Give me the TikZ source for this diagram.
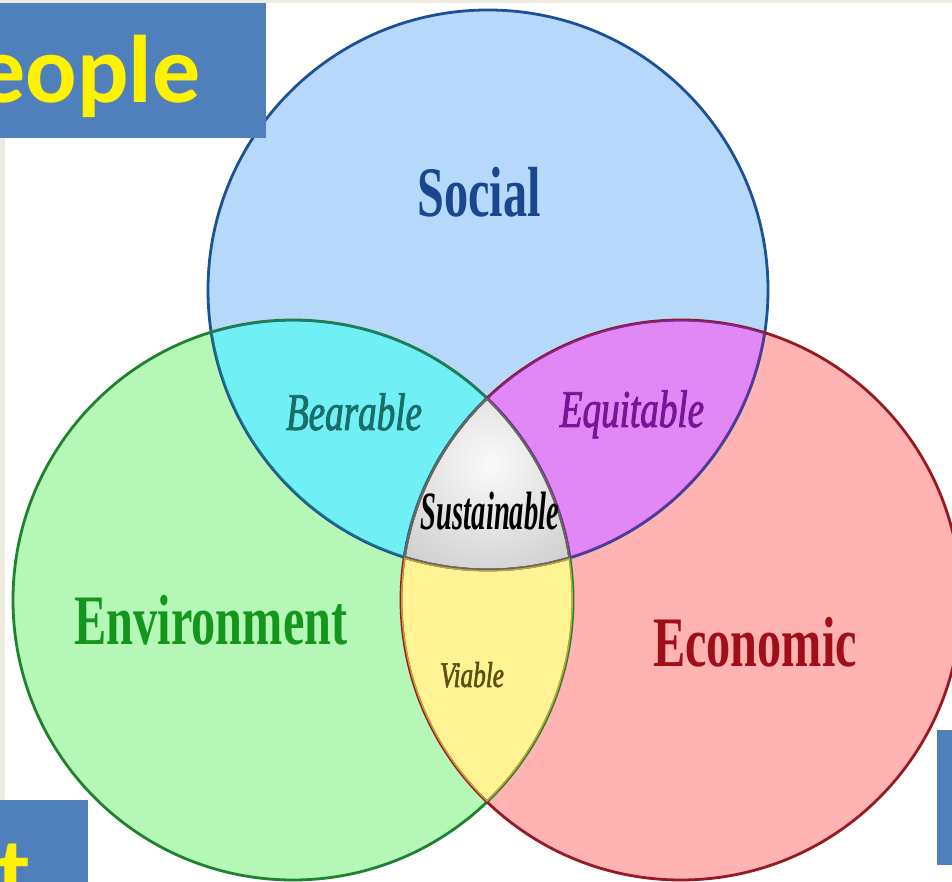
\documentclass[tikz,border=0pt]{standalone}
\usepackage{fontspec}
\setmainfont{Liberation Serif}
\newfontfamily\condB{Liberation Serif}[FakeStretch=0.68]
\newfontfamily\condI{Liberation Serif}[FakeStretch=0.70, FakeBold=1.6]
\newfontfamily\condS{Liberation Serif}[FakeStretch=0.53]
\newfontfamily\calfont{Carlito}
\definecolor{beige}{RGB}{237,234,224}
\definecolor{boxblue}{RGB}{79,128,188}
\definecolor{sfillc}{RGB}{182,216,250}
\definecolor{efillc}{RGB}{180,247,182}
\definecolor{cfillc}{RGB}{255,179,179}
\definecolor{sefillc}{RGB}{112,240,245}
\definecolor{scfillc}{RGB}{226,136,246}
\definecolor{ecfillc}{RGB}{255,243,148}
\definecolor{slinec}{RGB}{30,80,150}
\definecolor{elinec}{RGB}{30,130,50}
\definecolor{clinec}{RGB}{150,25,35}
\definecolor{selinec}{RGB}{30,120,130}
\definecolor{sclinec}{RGB}{120,40,160}
\definecolor{eclinec}{RGB}{200,160,60}
\definecolor{alinec}{RGB}{100,100,100}
\definecolor{stext}{RGB}{25,70,140}
\definecolor{etext}{RGB}{20,150,30}
\definecolor{ctext}{RGB}{160,15,25}
\definecolor{betext}{RGB}{25,110,105}
\definecolor{eqtext}{RGB}{120,20,150}
\definecolor{vitext}{RGB}{90,80,20}
\tikzset{
  ring/.style={line width=2.8pt},
  bigword/.style={anchor=base, inner sep=0pt, font=\condB\bfseries\fontsize{71}{71}\selectfont},
  midword/.style={anchor=base, inner sep=0pt, font=\condI\itshape\fontsize{53}{53}\selectfont},
  boxword/.style={inner sep=0pt, text=yellow, font=\calfont\bfseries\fontsize{96}{96}\selectfont}
}
\begin{document}
\begin{tikzpicture}[x=1pt,y=1pt]
\useasboundingbox (0,0) rectangle (952,882);
\clip (0,0) rectangle (952,882);
\fill[white] (0,0) rectangle (952,882);
\fill[beige] (0,0) rectangle (5,882);
\fill[beige] (0,879) rectangle (952,882);

\coordinate (cs) at (488,592);
\coordinate (ce) at (293,282);
\coordinate (cc) at (681,282);

% base fills
\fill[sfillc] (cs) circle (280pt);
\fill[efillc] (ce) circle (280pt);
\fill[cfillc] (cc) circle (280pt);
% pairwise overlaps
\begin{scope}\clip (cs) circle (280pt); \fill[sefillc] (ce) circle (280pt); \end{scope}
\begin{scope}\clip (cs) circle (280pt); \fill[scfillc] (cc) circle (280pt); \end{scope}
\begin{scope}\clip (ce) circle (280pt); \fill[ecfillc] (cc) circle (280pt); \end{scope}
% centre
\begin{scope}
  \clip (cs) circle (280pt); \clip (ce) circle (280pt); \clip (cc) circle (280pt);
  \shade[inner color=gray!4, outer color=gray!72] (490,418) circle (250pt);
\end{scope}

% outlines
\draw[ring, slinec] (cs) circle (280pt);
\draw[ring, elinec] (ce) circle (280pt);
\draw[ring, clinec] (cc) circle (280pt);
\begin{scope}\clip (cs) circle (280pt); \clip (ce) circle (280pt);
  \draw[ring, selinec] (cs) circle (280pt) (ce) circle (280pt) (cc) circle (280pt); \end{scope}
\begin{scope}\clip (cs) circle (280pt); \clip (cc) circle (280pt);
  \draw[ring, sclinec] (cs) circle (280pt) (ce) circle (280pt) (cc) circle (280pt); \end{scope}
\begin{scope}\clip (ce) circle (280pt); \clip (cc) circle (280pt);
  \draw[ring, eclinec] (cs) circle (280pt) (ce) circle (280pt) (cc) circle (280pt); \end{scope}
\begin{scope}\clip (cs) circle (280pt); \clip (ce) circle (280pt); \clip (cc) circle (280pt);
  \draw[ring, alinec] (cs) circle (280pt) (ce) circle (280pt) (cc) circle (280pt); \end{scope}

% labels
\node[bigword, text=stext] (social) at (479,665) {Social};
\node[bigword, text=etext] (env) at (211,237) {Environment};
\node[bigword, text=ctext] (econ) at (755,215) {Economic};
\node[midword, text=betext] (bear) at (354,452) {Bearable};
\node[midword, text=eqtext] (equi) at (632,455) {Equitable};
\node[anchor=base, inner sep=0pt, text=black, font=\condS\bfseries\itshape\fontsize{54}{54}\selectfont] (sust) at (490,352) {Sustainable};
\node[anchor=base, inner sep=0pt, text=vitext, font=\condI\itshape\fontsize{36}{36}\selectfont] (viab) at (472,195) {Viable};

% blue boxes
\fill[boxblue] (0,744) rectangle (266,879);
\node[boxword, anchor=base east] (people) at (201,779) {People};
\fill[boxblue] (0,0) rectangle (88,82);
\begin{scope}
  \clip (0,0) rectangle (88,82);
  \node[boxword, anchor=base west] (planet) at (-3,-23) {t};
\end{scope}
\fill[boxblue] (937,17) rectangle (952,152);
\end{tikzpicture}
\end{document}
